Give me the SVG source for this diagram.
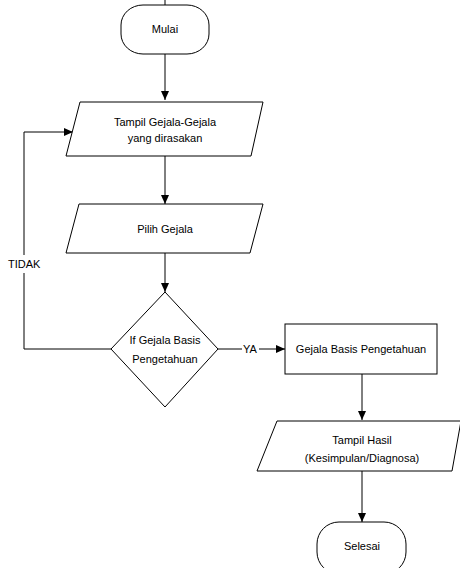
<svg xmlns="http://www.w3.org/2000/svg" width="460" height="568" viewBox="0 0 460 568">
<style>
.s{fill:#fff;stroke:#000;stroke-width:1}
.c{fill:none;stroke:#000;stroke-width:1}
text{font-family:"Liberation Sans",Arial,sans-serif;font-size:11px;fill:#000}
.m{text-anchor:middle}
</style>
<defs>
<marker id="a" markerWidth="9" markerHeight="8" refX="9" refY="4" orient="auto" markerUnits="userSpaceOnUse">
<path d="M0,0 L9,4 L0,8 Z" fill="#000"/>
</marker>
</defs>
<rect width="460" height="568" fill="#fff"/>
<g id="connectors">
<line class="c" x1="165" y1="0" x2="165" y2="5"/>
<line class="c" x1="165" y1="54" x2="165" y2="100" marker-end="url(#a)"/>
<line class="c" x1="165" y1="156" x2="165" y2="204" marker-end="url(#a)"/>
<line class="c" x1="165" y1="253" x2="165" y2="292" marker-end="url(#a)"/>
<polyline class="c" points="111,349 24,349 24,273"/>
<polyline class="c" points="24,255 24,132 73,132" marker-end="url(#a)"/>
<line class="c" x1="218" y1="349" x2="242" y2="349"/>
<line class="c" x1="259" y1="349" x2="285" y2="349" marker-end="url(#a)"/>
<line class="c" x1="362" y1="374" x2="362" y2="420" marker-end="url(#a)"/>
<line class="c" x1="362" y1="471" x2="362" y2="522" marker-end="url(#a)"/>
<text x="8" y="268">TIDAK</text>
<text x="243" y="353">YA</text>
</g>
<g id="mulai">
<rect class="s" x="121" y="5" width="88" height="49" rx="22" ry="20"/>
<text class="m" x="165" y="33">Mulai</text>
</g>
<g id="tampil-gejala">
<polygon class="s" points="80,102 263,102 251,156 66,156"/>
<text class="m" x="165" y="126">Tampil Gejala-Gejala</text>
<text class="m" x="165" y="142">yang dirasakan</text>
</g>
<g id="pilih-gejala">
<polygon class="s" points="79,204 263,204 250,253 66,253"/>
<text class="m" x="165" y="233">Pilih Gejala</text>
</g>
<g id="if-gejala">
<polygon class="s" points="165,292 218,349 165,407 111,349"/>
<text class="m" x="165" y="344">If Gejala Basis</text>
<text class="m" x="165" y="363">Pengetahuan</text>
</g>
<g id="gejala-basis">
<rect class="s" x="285" y="324" width="152" height="50"/>
<text class="m" x="361" y="353">Gejala Basis Pengetahuan</text>
</g>
<g id="tampil-hasil">
<polygon class="s" points="277,421 461,421 452,471 257,471"/>
<text class="m" x="362" y="444">Tampil Hasil</text>
<text class="m" x="362" y="462">(Kesimpulan/Diagnosa)</text>
</g>
<g id="selesai">
<rect class="s" x="317" y="522" width="89" height="52" rx="22" ry="22"/>
<text class="m" x="362" y="550">Selesai</text>
</g>
</svg>
